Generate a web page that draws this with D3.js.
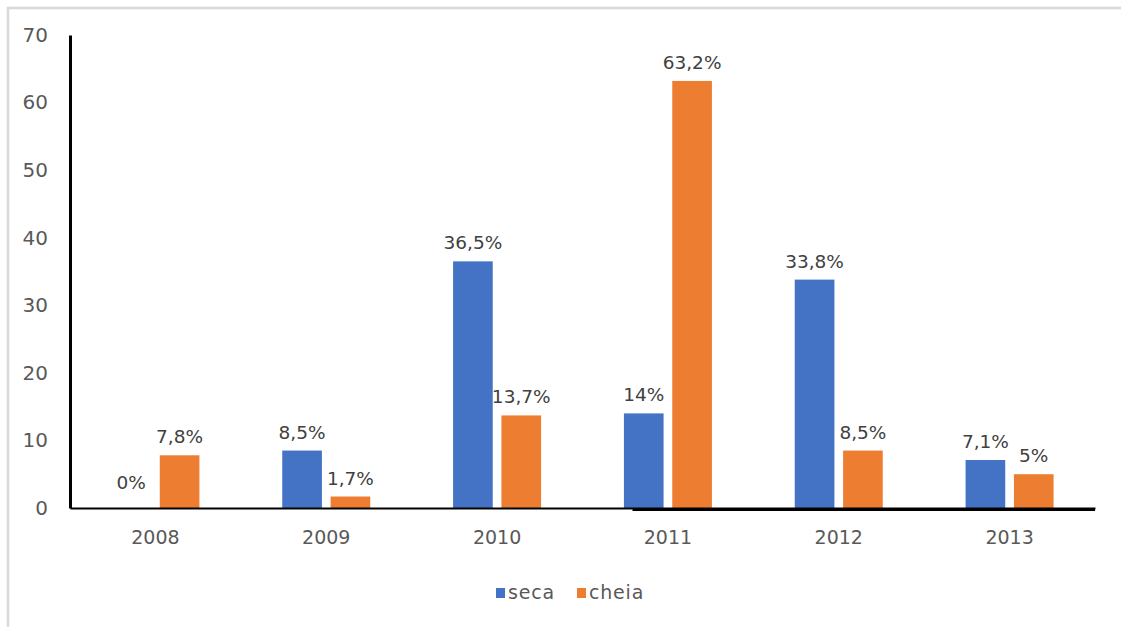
<!DOCTYPE html>
<html>
<head>
<meta charset="utf-8">
<script src="https://cdn.jsdelivr.net/npm/d3@7"></script>
<style>
  body { margin: 0; background: #fff; overflow: hidden; }
  svg { display: block; }
  text { font-family: "DejaVu Sans", sans-serif; }
</style>
</head>
<body>
<div id="chart-area"></div>
<script>
const years = ['2008','2009','2010','2011','2012','2013'];
const seriesNames = ['seca','cheia'];
const seca = [0, 8.5, 36.5, 14, 33.8, 7.1];
const cheia = [7.8, 1.7, 13.7, 63.2, 8.5, 5];
const secaLabels = ['0%','8,5%','36,5%','14%','33,8%','7,1%'];
const cheiaLabels = ['7,8%','1,7%','13,7%','63,2%','8,5%','5%'];
const yTicks = [0,10,20,30,40,50,60,70];

const colors = {seca:'#4472C4', cheia:'#ED7D31'};

const width = 1121, height = 627;
const margin = {top:35, right:26, bottom:119, left:70};

var svg = d3.select("#chart-area").append("svg")
    .attr("width", width)
    .attr("height", height);

// light frame: only the top and left edges show
svg.append("path")
   .attr("d", `M8,${height} V8 H${width}`)
   .attr("fill", "none")
   .attr("stroke", "#d9d9d9").attr("stroke-width", 2.5);

var xScale = d3.scaleBand()
    .domain(years)
    .range([margin.left, width - margin.right]);

var xInner = d3.scaleBand()
    .domain(seriesNames)
    .range([-44, 44])
    .paddingInner(0.18);

var yScale = d3.scaleLinear()
    .domain([0, 70])
    .range([height - margin.bottom, margin.top]);

var rows = [];
years.forEach(function(y, i){
    rows.push({year:y, key:'seca', value:seca[i], label:secaLabels[i]});
    rows.push({year:y, key:'cheia', value:cheia[i], label:cheiaLabels[i]});
});

// y axis
var yAxis = d3.axisLeft(yScale).tickValues(yTicks).tickSize(0).tickPadding(22);
var gy = svg.append("g")
    .attr("transform", `translate(${margin.left},0)`)
    .call(yAxis);
gy.select(".domain").attr("stroke", "#000").attr("stroke-width", 3);
gy.selectAll("text").attr("font-size", 20).attr("fill", "#595959");

// bars
svg.selectAll("rect.bar")
   .data(rows)
   .enter()
   .append("rect")
   .attr("class", "bar")
   .attr("x", d => xScale(d.year) + xScale.bandwidth()/2 + xInner(d.key))
   .attr("width", xInner.bandwidth())
   .attr("y", d => yScale(d.value))
   .attr("height", d => yScale(0) - yScale(d.value))
   .attr("fill", d => colors[d.key]);

// data labels
svg.selectAll("text.lbl")
   .data(rows)
   .enter()
   .append("text")
   .attr("class", "lbl")
   .attr("x", d => xScale(d.year) + xScale.bandwidth()/2 + xInner(d.key) + xInner.bandwidth()/2)
   .attr("y", d => yScale(d.value) - (d.value === 0 ? 19 : 12))
   .attr("text-anchor", "middle")
   .attr("font-size", 18.5)
   .attr("fill", "#404040")
   .text(d => d.label);

// x axis
var xAxis = d3.axisBottom(xScale).tickSize(0).tickPadding(23);
var gx = svg.append("g")
    .attr("transform", `translate(0,${yScale(0)})`)
    .call(xAxis);
gx.select(".domain").attr("stroke", "#000").attr("stroke-width", 2);
gx.selectAll("text").attr("font-size", 19).attr("fill", "#595959");

svg.append("line")
   .attr("x1", (margin.left + width - margin.right)/2 + 50)
   .attr("x2", width - margin.right)
   .attr("y1", yScale(0) + 1.5).attr("y2", yScale(0) + 1.5)
   .attr("stroke", "#000").attr("stroke-width", 3);

// legend
var legend = svg.append("g").attr("transform", "translate(496,599)");
var items = legend.selectAll("g")
    .data(seriesNames)
    .enter()
    .append("g")
    .attr("transform", (d,i) => `translate(${i*81},0)`);
items.append("rect")
     .attr("x", 0).attr("y", -11)
     .attr("width", 9).attr("height", 10)
     .attr("fill", d => colors[d]);
items.append("text")
     .attr("x", 12).attr("y", 0)
     .attr("font-size", 19)
     .attr("letter-spacing", 0.8)
     .attr("fill", "#595959")
     .text(d => d);
</script>
</body>
</html>
